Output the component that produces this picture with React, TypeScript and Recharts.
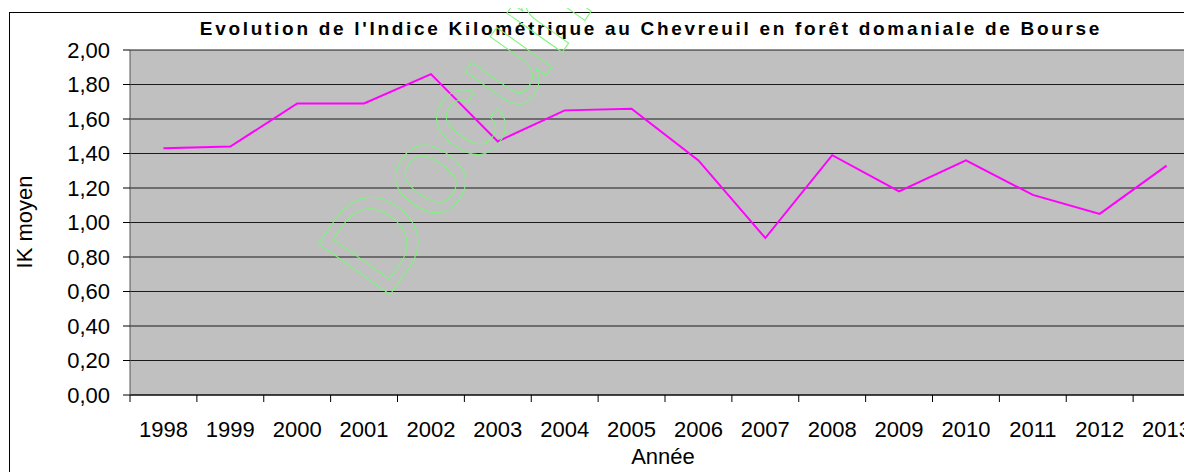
import React from 'react';
import { LineChart, Line, XAxis, YAxis, CartesianGrid } from 'recharts';

const years = [1998, 1999, 2000, 2001, 2002, 2003, 2004, 2005, 2006, 2007, 2008, 2009, 2010, 2011, 2012, 2013];
const ikValues = [1.43, 1.44, 1.69, 1.69, 1.86, 1.47, 1.65, 1.66, 1.36, 0.91, 1.39, 1.18, 1.36, 1.16, 1.05, 1.33];
const yTicks = [0, 0.2, 0.4, 0.6, 0.8, 1.0, 1.2, 1.4, 1.6, 1.8, 2.0];

const data = years.map((year, i) => ({ year, ik: ikValues[i] }));

const FONT = '"Liberation Sans", Arial, sans-serif';
const CHART_W = 1200;
const CHART_H = 464;
const PLOT_LEFT = 122;
const PLOT_TOP = 42;
const PLOT_W = 1070;
const PLOT_BOTTOM = 387;
const HALF_BAND = PLOT_W / years.length / 2;

// label centred on the year, tick mark on the category boundary
function YearTick(props: any) {
  const { x, payload } = props;
  const tx = x - HALF_BAND;
  return (
    <g>
      <line x1={tx} y1={PLOT_BOTTOM} x2={tx} y2={PLOT_BOTTOM + 7} stroke="#000" />
      <text x={x} y={PLOT_BOTTOM + 42} textAnchor="middle" fontSize={22} fill="#000" fontFamily={FONT}>
        {payload.value}
      </text>
    </g>
  );
}

export default function App() {
  return (
    <div style={{ position: 'relative', width: 1184, height: 464, overflow: 'hidden', fontFamily: FONT }}>
      <div
        style={{
          position: 'absolute',
          left: 1,
          top: 4,
          width: 1400,
          height: 700,
          borderLeft: '1.5px solid #000',
          borderTop: '1.5px solid #000',
        }}
      />
      <div style={{ position: 'absolute', left: 0, top: 0 }}>
        <LineChart
          width={CHART_W}
          height={CHART_H}
          data={data}
          margin={{ top: PLOT_TOP, right: CHART_W - PLOT_LEFT - PLOT_W, bottom: 0, left: 0 }}
        >
          <CartesianGrid vertical={false} fill="#C0C0C0" stroke="#1a1a1a" strokeOpacity={1} />
          <XAxis
            dataKey="year"
            type="number"
            domain={[years[0] - 0.5, years[years.length - 1] + 0.5]}
            ticks={years}
            interval={0}
            tickLine={false}
            axisLine={{ stroke: '#000' }}
            tick={<YearTick />}
            height={CHART_H - PLOT_BOTTOM}
          />
          <YAxis
            type="number"
            domain={[0, 2]}
            ticks={yTicks}
            interval={0}
            width={PLOT_LEFT}
            tickSize={7}
            tickMargin={13}
            tickLine={{ stroke: '#000' }}
            axisLine={{ stroke: '#555' }}
            tick={{ fill: '#000', fontSize: 22, fontFamily: FONT }}
            tickFormatter={(v: number) => v.toFixed(2).replace('.', ',')}
          />
          <Line
            type="linear"
            dataKey="ik"
            stroke="#FF00FF"
            strokeWidth={2}
            dot={false}
            isAnimationActive={false}
          />
        </LineChart>
      </div>
      <div
        style={{
          position: 'absolute',
          left: 643,
          top: 21,
          transform: 'translate(-50%, -50%)',
          fontSize: 19,
          fontWeight: 'bold',
          letterSpacing: 2.7,
          color: '#000',
          whiteSpace: 'nowrap',
        }}
      >
        Evolution de l'Indice Kilométrique au Chevreuil en forêt domaniale de Bourse
      </div>
      <div
        style={{
          position: 'absolute',
          left: 17,
          top: 214,
          transform: 'translate(-50%, -50%) rotate(-90deg)',
          fontSize: 22,
          whiteSpace: 'nowrap',
        }}
      >
        IK moyen
      </div>
      <div
        style={{
          position: 'absolute',
          left: 655,
          top: 449,
          transform: 'translate(-50%, -50%)',
          fontSize: 22,
          whiteSpace: 'nowrap',
        }}
      >
        Année
      </div>
      <svg
        width={1184}
        height={464}
        style={{ position: 'absolute', left: 0, top: 0, pointerEvents: 'none' }}
      >
        <text
          x={376}
          y={295}
          transform="rotate(-54.6 376 295)"
          fontSize={128}
          fontFamily={FONT}
          fill="none"
          stroke="#7CF57C"
          strokeWidth={1}
        >
          Document
        </text>
      </svg>
    </div>
  );
}
